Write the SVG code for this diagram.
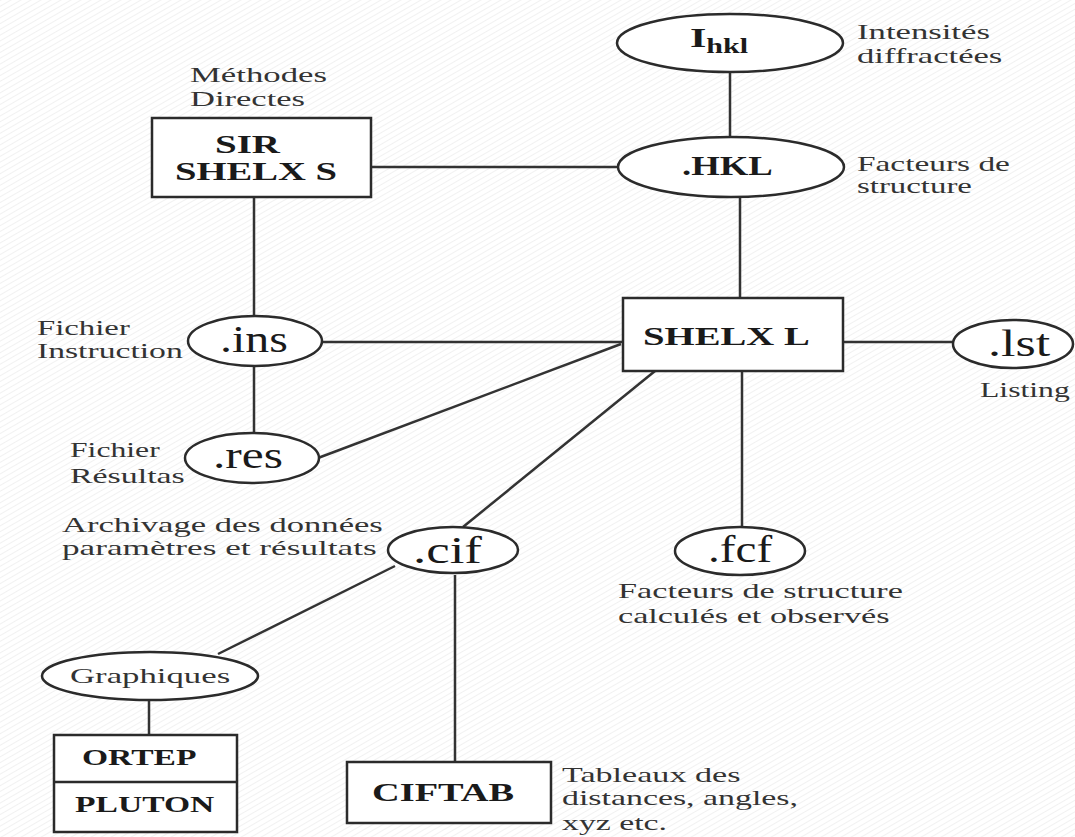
<svg xmlns="http://www.w3.org/2000/svg" width="1075" height="837" viewBox="0 0 1075 837">
<defs>
<pattern id="hatch" width="5" height="5" patternUnits="userSpaceOnUse" patternTransform="rotate(60)">
<line x1="0" y1="0" x2="0" y2="5" stroke="#e4e4e4" stroke-width="1"/>
</pattern>
<style>
.shape{fill:#fff;stroke:#2b2b2b;stroke-width:2.5}
.conn line{stroke:#333;stroke-width:2.5}
text{font-family:"Liberation Serif","Times New Roman",serif}
.dlab{font-size:22px;fill:#333}
.dext{font-size:38px;fill:#1a1a1a}
.dnam{font-weight:bold;font-size:26px;fill:#1a1a1a}
</style>
</defs>
<rect width="1075" height="837" fill="#fff"/>
<rect width="1075" height="837" fill="url(#hatch)"/>
<g id="connectors" class="conn">
<line x1="730" y1="72" x2="730" y2="137"/>
<line x1="740" y1="197" x2="740" y2="298"/>
<line x1="371" y1="167" x2="618" y2="167"/>
<line x1="254" y1="197" x2="254" y2="316"/>
<line x1="254" y1="366" x2="254" y2="433"/>
<line x1="322" y1="342" x2="623" y2="342"/>
<line x1="318" y1="458" x2="621" y2="344"/>
<line x1="843" y1="342" x2="953" y2="342"/>
<line x1="742" y1="371" x2="742" y2="527"/>
<line x1="655" y1="371" x2="463" y2="527"/>
<line x1="395" y1="566" x2="218" y2="654"/>
<line x1="455" y1="575" x2="455" y2="762"/>
<line x1="149" y1="700" x2="149" y2="735"/>
</g>
<g id="n-ihkl">
<ellipse class="shape" cx="730" cy="43" rx="113" ry="29"/>
<text transform="translate(690,47) scale(1.5,1)" font-weight="bold" font-size="28" fill="#1a1a1a">I<tspan font-size="20" dy="6">hkl</tspan></text>
</g>
<g id="n-hkl">
<ellipse class="shape" cx="731" cy="167" rx="113" ry="30"/>
<text class="dnam" transform="translate(682,175) scale(1.36,1)" style="font-size:27px">.HKL</text>
</g>
<g id="n-sir">
<rect class="shape" x="152" y="118" width="219" height="79"/>
<text class="dnam" transform="translate(215,153) scale(1.5,1)">SIR</text>
<text class="dnam" transform="translate(175,180) scale(1.485,1)">SHELX S</text>
</g>
<g id="n-ins">
<ellipse class="shape" cx="255" cy="341" rx="67" ry="25"/>
<text class="dext" transform="translate(220,352) scale(1.26,1)">.ins</text>
</g>
<g id="n-res">
<ellipse class="shape" cx="252" cy="458" rx="67" ry="25"/>
<text class="dext" transform="translate(213,468) scale(1.3,1)">.res</text>
</g>
<g id="n-shelxl">
<rect class="shape" x="623" y="298" width="220" height="73"/>
<text class="dnam" transform="translate(643,345) scale(1.49,1)">SHELX L</text>
</g>
<g id="n-lst">
<ellipse class="shape" cx="1013" cy="344" rx="60" ry="24"/>
<text class="dext" transform="translate(988,356) scale(1.37,1)">.lst</text>
</g>
<g id="n-fcf">
<ellipse class="shape" cx="740" cy="551" rx="65" ry="24"/>
<text class="dext" transform="translate(708,562) scale(1.24,1)">.fcf</text>
</g>
<g id="n-cif">
<ellipse class="shape" cx="453" cy="550" rx="65" ry="23"/>
<text class="dext" transform="translate(413,563) scale(1.39,1)">.cif</text>
</g>
<g id="n-graph">
<ellipse class="shape" cx="150" cy="676" rx="108" ry="24"/>
<text class="dlab" transform="translate(70,683) scale(1.58,1)">Graphiques</text>
</g>
<g id="n-ortep">
<rect class="shape" x="54" y="735" width="183" height="97"/>
<line x1="54" y1="782" x2="237" y2="782" stroke="#2b2b2b" stroke-width="2.5"/>
<text class="dnam" transform="translate(82,765) scale(1.46,1)" style="font-size:23px">ORTEP</text>
<text class="dnam" transform="translate(75,812) scale(1.46,1)" style="font-size:23px">PLUTON</text>
</g>
<g id="n-ciftab">
<rect class="shape" x="347" y="762" width="204" height="61"/>
<text class="dnam" transform="translate(372,801) scale(1.476,1)">CIFTAB</text>
</g>
<g id="labels">
<text class="dlab" transform="translate(857,39) scale(1.577,1)">Intensités</text>
<text class="dlab" transform="translate(857,63) scale(1.573,1)">diffractées</text>
<text class="dlab" transform="translate(857,171) scale(1.59,1)" style="font-size:21px">Facteurs de</text>
<text class="dlab" transform="translate(857,193) scale(1.565,1)" style="font-size:21px">structure</text>
<text class="dlab" transform="translate(190,82) scale(1.579,1)">Méthodes</text>
<text class="dlab" transform="translate(190,106) scale(1.569,1)">Directes</text>
<text class="dlab" transform="translate(37,335) scale(1.49,1)">Fichier</text>
<text class="dlab" transform="translate(37,358) scale(1.53,1)">Instruction</text>
<text class="dlab" transform="translate(70,457) scale(1.44,1)">Fichier</text>
<text class="dlab" transform="translate(70,483) scale(1.54,1)">Résultas</text>
<text class="dlab" transform="translate(980,397) scale(1.44,1)">Listing</text>
<text class="dlab" transform="translate(618,598) scale(1.555,1)">Facteurs de structure</text>
<text class="dlab" transform="translate(618,623) scale(1.555,1)">calculés et observés</text>
<text class="dlab" transform="translate(62,532) scale(1.573,1)">Archivage des données</text>
<text class="dlab" transform="translate(62,555) scale(1.6,1)">paramètres et résultats</text>
<text class="dlab" transform="translate(562,782) scale(1.55,1)">Tableaux des</text>
<text class="dlab" transform="translate(562,805) scale(1.54,1)">distances, angles,</text>
<text class="dlab" transform="translate(562,830) scale(1.535,1)">xyz etc.</text>
</g>
</svg>
